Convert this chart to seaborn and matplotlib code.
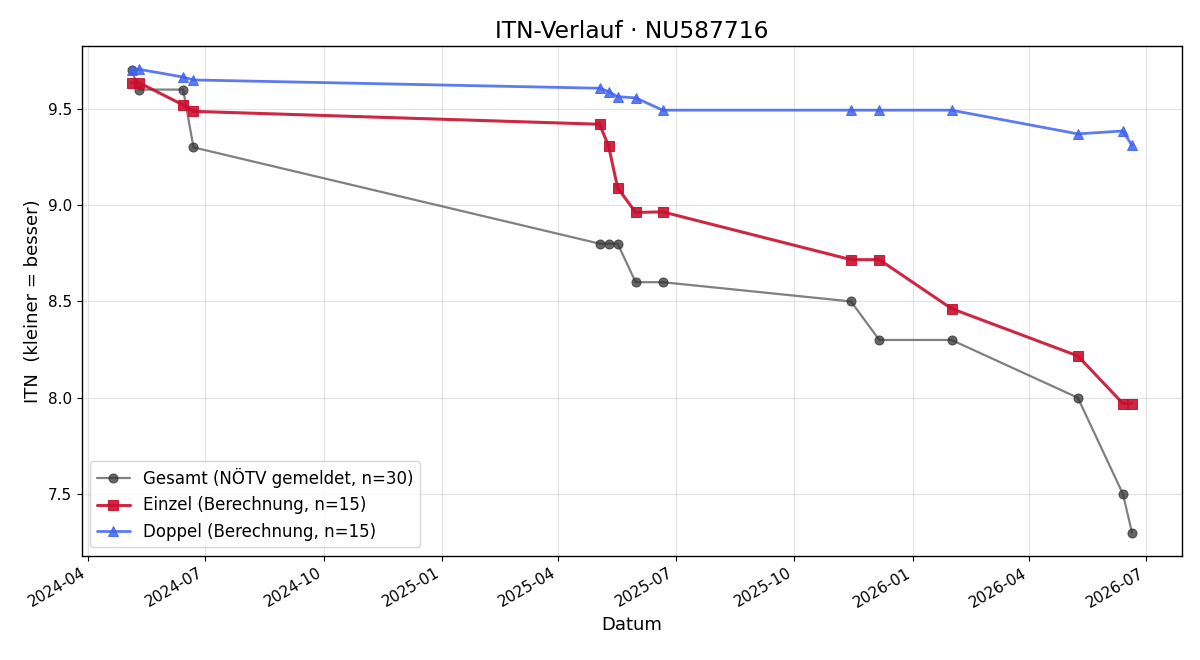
import matplotlib
matplotlib.use("Agg")
import matplotlib.pyplot as plt
import seaborn as sns
import pandas as pd

dates = ["2024-05-05", "2024-05-11", "2024-06-14", "2024-06-22",
         "2025-05-03", "2025-05-10", "2025-05-17", "2025-05-31", "2025-06-21",
         "2025-11-14", "2025-12-06", "2026-01-31",
         "2026-05-09", "2026-06-13", "2026-06-20"]
gesamt = [9.70, 9.60, 9.60, 9.30, 8.80, 8.80, 8.80, 8.60, 8.60, 8.50, 8.30, 8.30, 8.00, 7.50, 7.30]
einzel = [9.635, 9.635, 9.52, 9.487, 9.42, 9.307, 9.09, 8.962, 8.965, 8.717, 8.717, 8.463, 8.217, 7.97, 7.97]
doppel = [9.70, 9.705, 9.665, 9.65, 9.607, 9.59, 9.563, 9.557, 9.493, 9.493, 9.493, 9.493, 9.37, 9.385, 9.31]

labels = ["Gesamt (NÖTV gemeldet, n=30)",
          "Einzel (Berechnung, n=15)",
          "Doppel (Berechnung, n=15)"]

df = pd.DataFrame({"Datum": pd.to_datetime(dates), "gesamt": gesamt,
                   "einzel": einzel, "doppel": doppel})

sns.set_style("white")
plt.rcParams['font.family'] = ['DejaVu Sans']
plt.rcParams['text.color'] = 'black'
plt.rcParams['axes.labelcolor'] = 'black'
plt.rcParams['xtick.color'] = 'black'
plt.rcParams['ytick.color'] = 'black'

fig, ax = plt.subplots(figsize=(12, 6.6), dpi=100)

sns.lineplot(data=df, x="Datum", y="gesamt", ax=ax, color="#555555", alpha=0.75,
             linewidth=1.6, marker="o", markersize=6.5,
             markerfacecolor="#333333", markeredgecolor="#333333",
             label=labels[0], estimator=None, sort=False)
sns.lineplot(data=df, x="Datum", y="einzel", ax=ax, color="#C8102E", alpha=0.9,
             linewidth=2.2, marker="s", markersize=7.5,
             markeredgecolor="#C8102E", label=labels[1], estimator=None, sort=False)
sns.lineplot(data=df, x="Datum", y="doppel", ax=ax, color="#3F63F0", alpha=0.85,
             linewidth=2.0, marker="^", markersize=7.5,
             markeredgecolor="#3F63F0", label=labels[2], estimator=None, sort=False)

ax.set_title("ITN-Verlauf · NU587716", fontsize=16.8, color="black")
ax.set_xlabel("Datum", fontsize=13)
ax.set_ylabel("ITN  (kleiner = besser)", fontsize=13)
ax.tick_params(labelsize=11, length=3.5, width=0.8, direction="out",
               bottom=True, left=True, colors="black")
ax.grid(True, color="#b0b0b0", alpha=0.35, linewidth=0.8)
for s in ax.spines.values():
    s.set_color("black")
    s.set_linewidth(1.0)
ax.legend(loc="lower left", fontsize=12, framealpha=0.8)
fig.autofmt_xdate()
fig.subplots_adjust(left=0.068, right=0.985, top=0.93, bottom=0.158)
fig.savefig("out.png", dpi=100)
